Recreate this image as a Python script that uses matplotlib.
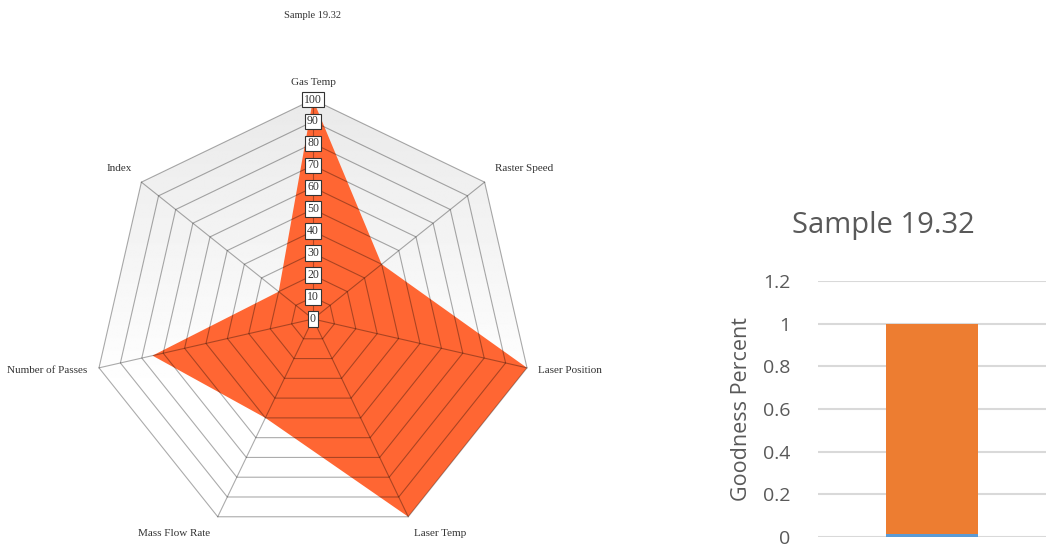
import numpy as np
import matplotlib
matplotlib.use("Agg")
import matplotlib.pyplot as plt
from matplotlib.patches import Polygon

# %% Data
axis_names = ["Gas Temp", "Raster Speed", "Laser Position", "Laser Temp",
              "Mass Flow Rate", "Number of Passes", "Index"]
radar_values = [100, 40, 100, 100, 50, 75, 20]
ring_levels = [10, 20, 30, 40, 50, 60, 70, 80, 90, 100]
tick_labels = ["0", "10", "20", "30", "40", "50", "60", "70", "80", "90", "100"]

bar_categories = ["Sample 19.32"]
bar_low = [0.012]      # blue segment
bar_high = [0.988]     # orange segment
y_ticks = [0, 0.2, 0.4, 0.6, 0.8, 1.0, 1.2]
y_tick_labels = ["0", "0.2", "0.4", "0.6", "0.8", "1", "1.2"]

# %% Figure
W, H = 1046, 548
fig = plt.figure(figsize=(W / 100, H / 100), dpi=100)

# radar axes: centre at pixel (313, 319) from top-left, 100 units = 219.5 px
scale = 2.195
cx_px, cy_px = 313, 548 - 319
ax = fig.add_axes([0, 0, 626 / W, 1])
ax.set_xlim(-cx_px / scale, (626 - cx_px) / scale)
ax.set_ylim(-cy_px / scale, (H - cy_px) / scale)
ax.axis("off")

n = len(axis_names)
ang = np.arange(n) * 2 * np.pi / n          # clockwise from top
ux, uy = np.sin(ang), np.cos(ang)

# gradient background clipped to outer heptagon
outer = Polygon(np.column_stack([100 * ux, 100 * uy]), closed=True,
                facecolor="none", edgecolor="none")
ax.add_patch(outer)
grad = np.linspace(0.915, 1.0, 200).reshape(-1, 1)
grad = np.concatenate([grad, np.ones((100, 1))])
img = ax.imshow(np.repeat(grad, 2, axis=1), cmap="gray", vmin=0, vmax=1,
                extent=[-100, 100, -100, 100], origin="upper",
                aspect="auto", zorder=0, interpolation="bilinear")
img.set_clip_path(outer)

# data polygon
vals = np.asarray(radar_values, dtype=float)
ax.fill(vals * ux, vals * uy, color="#FF6633", zorder=1, lw=0)

# rings and spokes
for lv in ring_levels:
    ax.plot(np.append(lv * ux, lv * ux[0]), np.append(lv * uy, lv * uy[0]),
            color="black", alpha=0.33, lw=0.8, zorder=2)
for i in range(n):
    ax.plot([0, 100 * ux[i]], [0, 100 * uy[i]], color="black", alpha=0.33,
            lw=0.8, zorder=2)

# tick labels on top spoke
for k, lab in enumerate(tick_labels):
    ax.text(0, k * 10, lab, ha="center", va="center", fontsize=8.5,
            family="Liberation Serif", color="#333333", zorder=4,
            bbox=dict(boxstyle="square,pad=0.15", fc="white", ec="#333333",
                      lw=0.8))

# axis labels
offsets = [(0, 17, "center"), (10, 14, "left"), (11, -3, "left"),
           (6, -17, "left"), (-8, -17, "right"), (-12, -3, "right"),
           (-9, 14, "right")]
for i, name in enumerate(axis_names):
    dx, dy, ha = offsets[i]
    ax.annotate(name, (100 * ux[i], 100 * uy[i]), xytext=(dx, dy),
                textcoords="offset pixels", ha=ha, va="center", fontsize=8,
                family="Liberation Serif", color="#333333")

ax.text(0, (H - 15 - cy_px) / scale, "Sample 19.32", ha="center", va="center",
        fontsize=7.5, family="Liberation Serif", color="#333333")

# %% Bar chart
bx = fig.add_axes([818 / W, (H - 537) / H, (W - 818) / W, (537 - 281) / H])
x = np.arange(len(bar_categories))
bx.bar(x, bar_low, width=0.4, color="#5B9BD5", zorder=3)
bx.bar(x, bar_high, width=0.4, bottom=bar_low, color="#ED7D31", zorder=3)
bx.set_xlim(-0.5, 0.5)
bx.set_ylim(0, 1.2)
bx.set_yticks(y_ticks)
bx.set_yticklabels(y_tick_labels, family="Open Sans", fontsize=14,
                   color="#595959")
bx.set_xticks([])
bx.tick_params(axis="y", length=0, pad=20)
bx.grid(axis="y", color="#D9D9D9", lw=1.5, zorder=0)
for sp in bx.spines.values():
    sp.set_visible(False)
bx.set_ylabel("Goodness Percent", family="Open Sans", fontsize=15.5,
              color="#595959", labelpad=8)
fig.text(883 / W, (H - 226) / H, bar_categories[0], ha="center", va="center",
         family="Open Sans", fontsize=21, color="#595959")

fig.savefig("out.png", dpi=100)
